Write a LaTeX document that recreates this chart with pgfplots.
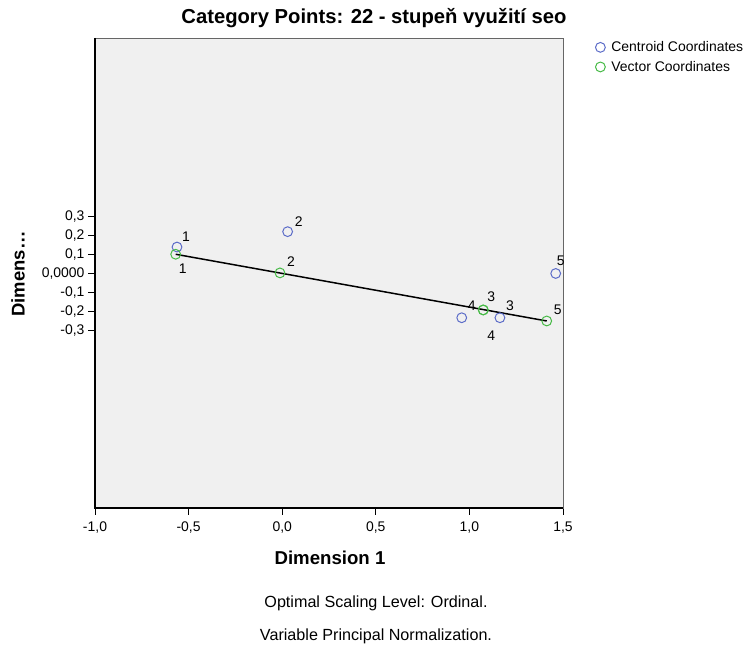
\documentclass[border=0pt]{standalone}
\usepackage{fontspec}
\setmainfont{Liberation Sans}
\usepackage{pgfplots}
\pgfplotsset{compat=1.18}
\usepackage{pgfplotstable}
\definecolor{bgc}{RGB}{240,240,240}
\definecolor{cblue}{RGB}{92,108,200}
\definecolor{cgreen}{RGB}{70,186,70}

\pgfplotstableread{
x y lab dx dy
-0.562 0.139 1 9 10
0.029 0.220 2 11 10
1.163 -0.233 3 10 12
0.959 -0.233 4 10 12
1.461 0.000 5 5 13
}\centroidtab
\pgfplotstableread{
x y lab dx dy
-0.569 0.101 1 7 -14
-0.012 0.003 2 11 11
1.074 -0.192 3 8 13
1.074 -0.192 4 8 -26
1.413 -0.250 5 11 11
}\vectortab

\begin{document}
\begin{tikzpicture}[x=1bp,y=1bp]
\useasboundingbox (0,0) rectangle (744,645);
\begin{axis}[
  at={(95bp,137bp)}, anchor=south west,
  scale only axis, width=468bp, height=470bp,
  xmin=-1, xmax=1.5, ymin=-1.234, ymax=1.239,
  clip=false,
  axis background/.style={fill=bgc},
  axis line style={black!60, line width=0.8pt},
  xtick={-1,-0.5,0,0.5,1,1.5},
  xticklabels={{-1,0},{-0,5},{0,0},{0,5},{1,0},{1,5}},
  ytick={-0.3,-0.2,-0.1,0,0.1,0.2,0.3},
  yticklabels={{-0,3},{-0,2},{-0,1},{0,0000},{0,1},{0,2},{0,3}},
  xtick pos=bottom, ytick pos=left,
  tick align=outside, major tick length=7bp,
  tick style={black, line width=0.8pt},
  ticklabel style={font=\fontsize{14}{16}\selectfont},
  xticklabel style={yshift=-3bp},
  /pgf/number format/assume math mode=true,
  legend style={at={(1.069,0.996)}, anchor=north west, draw=none, fill=none,
    font=\fontsize{14}{16}\selectfont, row sep=5bp, inner sep=0pt,
    nodes={inner sep=1.5bp}},
  legend cell align=left,
  legend image code/.code={\draw[#1] plot coordinates {(0bp,0bp)}; \path (0bp,0bp) (9bp,0bp);},
]
\addplot[black, line width=1.5pt, forget plot] coordinates {(-0.569,0.101) (1.413,-0.250)};
\addplot[only marks, mark=o, mark size=4.9bp, cblue, line width=1pt,
  nodes near coords, point meta=explicit symbolic,
  visualization depends on={\thisrow{dx}\as\dx},
  visualization depends on={\thisrow{dy}\as\dy},
  every node near coord/.append style={black, anchor=center, xshift=\dx bp, yshift=\dy bp, font=\fontsize{14}{16}\selectfont}]
  table[x=x,y=y,meta=lab]{\centroidtab};
\addlegendentry{Centroid Coordinates}
\addplot[only marks, mark=o, mark size=4.9bp, cgreen, line width=1pt,
  nodes near coords, point meta=explicit symbolic,
  visualization depends on={\thisrow{dx}\as\dx},
  visualization depends on={\thisrow{dy}\as\dy},
  every node near coord/.append style={black, anchor=center, xshift=\dx bp, yshift=\dy bp, font=\fontsize{14}{16}\selectfont}]
  table[x=x,y=y,meta=lab]{\vectortab};
\addlegendentry{Vector Coordinates}
\draw[black, line width=1.3pt] (rel axis cs:0,1) -- (rel axis cs:0,0) -- (rel axis cs:1,0);
\end{axis}
\node[font=\bfseries\fontsize{20.3}{24}\selectfont] at (374,627) {Category Points: 22 - stupeň využití seo};
\node[font=\bfseries\fontsize{18.7}{22}\selectfont] at (330,87) {Dimension 1};
\node[font=\bfseries\fontsize{18.5}{22}\selectfont, rotate=90] at (18,371) {Dimens\ldots};
\node[font=\fontsize{16.2}{19}\selectfont] at (376,42) {Optimal Scaling Level: Ordinal.};
\node[font=\fontsize{16.2}{19}\selectfont] at (376,9) {Variable Principal Normalization.};
\end{tikzpicture}
\end{document}
